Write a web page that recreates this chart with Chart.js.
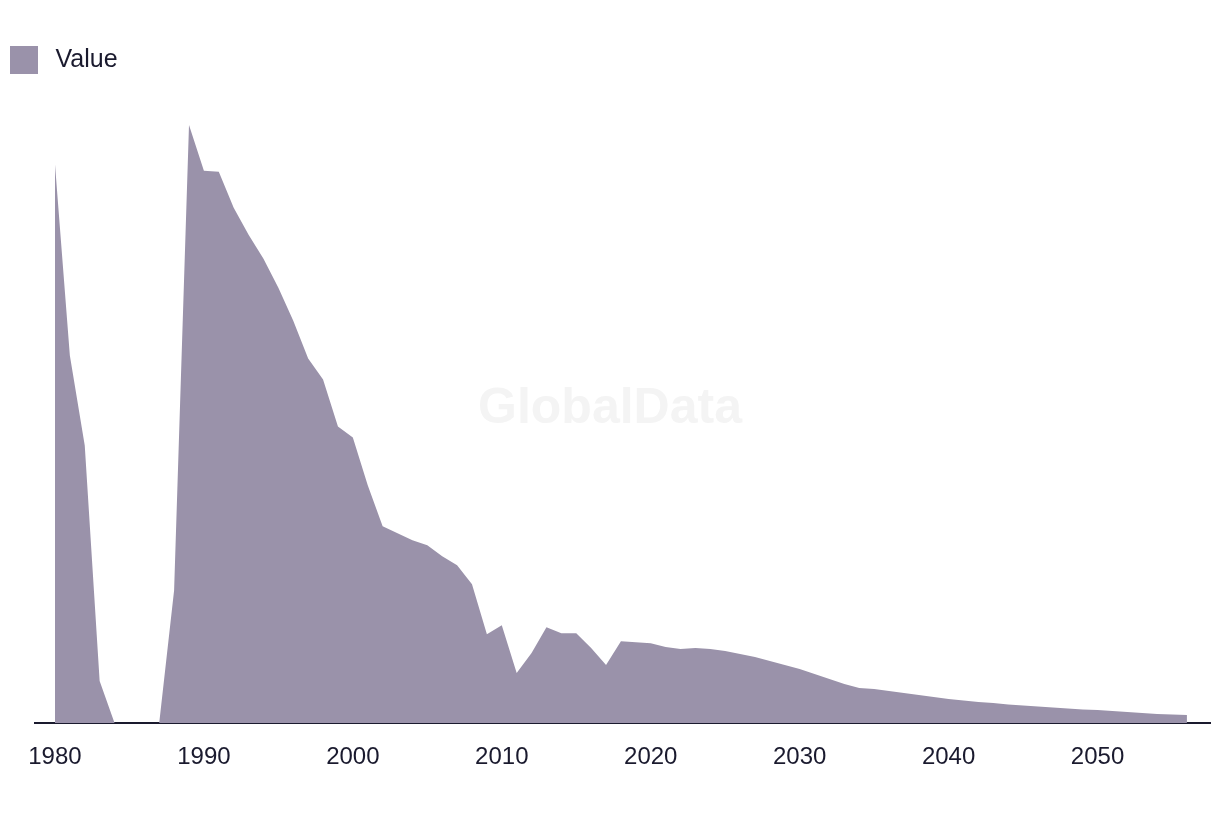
<!DOCTYPE html>
<html>
<head>
<meta charset="utf-8">
<script src="https://cdn.jsdelivr.net/npm/chart.js@4.4.1/dist/chart.umd.min.js"></script>
<style>
  html, body { margin: 0; padding: 0; background: #fff; }
  #wrap { width: 1220px; height: 816px; }
</style>
</head>
<body>
<div id="wrap"><canvas id="chart"></canvas></div>
<script>
// years and values
const years = [];
for (let y = 1980; y <= 2056; y++) years.push(y);

const values = [
  56.0, 36.8, 27.8, 4.2, 0, 0, 0, 0, 13.3, 59.9,   // 1980-1989
  55.3, 55.2, 51.6, 48.9, 46.5, 43.6, 40.3, 36.5, 34.4, 29.7, // 1990-1999
  28.6, 23.8, 19.7, 19.0, 18.3, 17.8, 16.7, 15.8, 13.9, 8.9,  // 2000-2009
  9.8, 5.0, 7.0, 9.6, 9.0, 9.0, 7.5, 5.8, 8.2, 8.1,           // 2010-2019
  8.0, 7.6, 7.4, 7.5, 7.4, 7.2, 6.9, 6.6, 6.2, 5.8,           // 2020-2029
  5.4, 4.9, 4.4, 3.9, 3.5, 3.4, 3.2, 3.0, 2.8, 2.6,           // 2030-2039
  2.4, 2.25, 2.1, 2.0, 1.85, 1.75, 1.65, 1.55, 1.45, 1.35,    // 2040-2049
  1.3, 1.2, 1.1, 1.0, 0.9, 0.85, 0.8                          // 2050-2056
];

const tickYears = [1980, 1990, 2000, 2010, 2020, 2030, 2040, 2050];

const ink = '#1a1a2e';
const fillColor = 'rgb(154,146,170)';

// faint watermark in the middle of the plot
const watermark = {
  id: 'watermark',
  beforeDatasetsDraw(chart) {
    const ctx = chart.ctx;
    ctx.save();
    ctx.font = 'bold 50px "Liberation Sans", Arial, sans-serif';
    ctx.fillStyle = '#f4f4f4';
    ctx.textAlign = 'center';
    ctx.textBaseline = 'middle';
    ctx.fillText('GlobalData', 610, 409);
    ctx.restore();
  }
};

new Chart(document.getElementById('chart'), {
  type: 'line',
  data: {
    datasets: [{
      label: 'Value',
      data: years.map((y, i) => ({ x: y, y: values[i] })),
      backgroundColor: fillColor,
      borderColor: fillColor,
      borderWidth: 0,
      pointRadius: 0,
      fill: 'origin',
      tension: 0
    }]
  },
  options: {
    responsive: true,
    maintainAspectRatio: false,
    animation: false,
    layout: { padding: { top: 36, right: 10, left: 0, bottom: 0 } },
    plugins: {
      legend: {
        position: 'top',
        align: 'start',
        labels: {
          boxWidth: 28,
          boxHeight: 28,
          padding: 10,
          color: ink,
          font: { family: '"Liberation Sans", Arial, sans-serif', size: 25 },
          generateLabels(chart) {
            const items = Chart.defaults.plugins.legend.labels.generateLabels(chart);
            items.forEach(it => { it.text = '\u2009' + it.text; it.lineWidth = 0; });
            return items;
          }
        }
      },
      tooltip: { enabled: false }
    },
    scales: {
      x: {
        type: 'linear',
        min: 1978.66,
        max: 2057.55,
        afterBuildTicks(axis) {
          axis.ticks = tickYears.map(v => ({ value: v }));
        },
        afterFit(axis) { axis.height = 93; },
        grid: { display: false, drawTicks: false },
        border: { display: true, color: ink, width: 2 },
        ticks: {
          color: ink,
          padding: 20,
          maxRotation: 0,
          autoSkip: false,
          font: { family: '"Liberation Sans", Arial, sans-serif', size: 24 },
          callback: v => String(v)
        }
      },
      y: {
        min: 0,
        max: 64,
        afterFit(axis) { axis.width = 35; },
        grid: { display: false, drawTicks: false },
        border: { display: false },
        ticks: { display: false }
      }
    }
  },
  plugins: [watermark]
});
</script>
</body>
</html>
